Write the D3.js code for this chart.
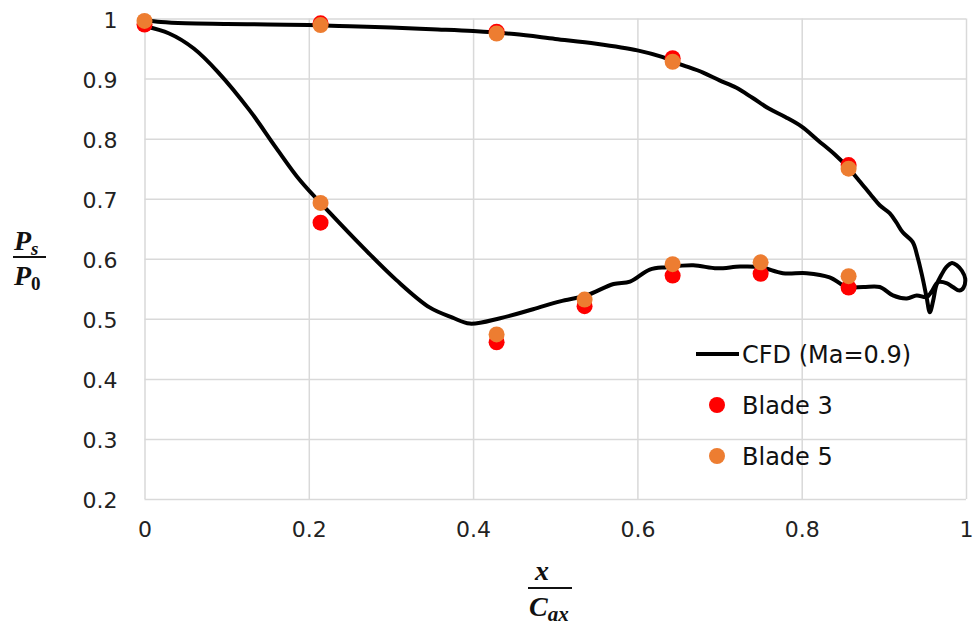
<!DOCTYPE html>
<html>
<head>
<meta charset="utf-8">
<script src="https://cdn.jsdelivr.net/npm/d3@7"></script>
<style>
  body { margin: 0; background: #fff; }
  .tick text { font-family: "DejaVu Sans", sans-serif; font-size: 22px; fill: #222; }
  .grid line { stroke: #d9d9d9; stroke-width: 1.5; }
  .legend text { font-family: "DejaVu Sans", sans-serif; font-size: 24px; fill: #111; }
  .title text { font-family: "Liberation Serif", serif; font-weight: bold; font-style: italic; fill: #111; }
</style>
</head>
<body>
<div id="chart"></div>
<script>
// CFD curve: pressure side -> trailing edge loop -> suction side
const cfdX = [0, 0.02, 0.05, 0.1, 0.15, 0.2, 0.25, 0.3, 0.35, 0.4, 0.45, 0.5, 0.55, 0.6, 0.63, 0.65, 0.68, 0.7, 0.72, 0.74, 0.76, 0.78, 0.8, 0.82, 0.84, 0.857, 0.87, 0.885, 0.895, 0.907, 0.915, 0.923, 0.935, 0.941, 0.947, 0.952, 0.956,
  0.960, 0.964, 0.970, 0.976, 0.983, 0.989, 0.995, 0.999, 0.997, 0.992, 0.984, 0.977, 0.966, 0.958, 0.952,
  0.940, 0.928, 0.911, 0.895, 0.875, 0.855, 0.834, 0.806, 0.777, 0.75, 0.725, 0.697, 0.668, 0.636, 0.615, 0.591, 0.571, 0.538, 0.506, 0.473, 0.433, 0.396, 0.375, 0.347, 0.307, 0.266, 0.226, 0.189, 0.16, 0.128, 0.09, 0.06, 0.03, 0];
const cfdY = [0.997, 0.994, 0.992, 0.991, 0.990, 0.989, 0.987, 0.985, 0.982, 0.979, 0.974, 0.966, 0.958, 0.947, 0.936, 0.925, 0.91, 0.897, 0.885, 0.868, 0.85, 0.836, 0.82, 0.797, 0.774, 0.751, 0.73, 0.705, 0.689, 0.676, 0.661, 0.644, 0.628, 0.603, 0.569, 0.536, 0.511,
  0.53, 0.556, 0.573, 0.586, 0.593, 0.589, 0.58, 0.567, 0.552, 0.547, 0.553, 0.559, 0.561, 0.545, 0.536,
  0.539, 0.534, 0.539, 0.553, 0.553, 0.553, 0.569, 0.576, 0.576, 0.586, 0.587, 0.584, 0.589, 0.586, 0.582, 0.562, 0.558, 0.539, 0.529, 0.516, 0.501, 0.492, 0.502, 0.519, 0.564, 0.619, 0.676, 0.731, 0.785, 0.847, 0.91, 0.95, 0.975, 0.987];

// measurement positions (x / Cax)
const probeX = [0, 0.2143, 0.4286, 0.6429, 0.8571, 0.2143, 0.4286, 0.5357, 0.6429, 0.75, 0.8571];
const blade3 = [0.99, 0.992, 0.978, 0.934, 0.756, 0.660, 0.461, 0.521, 0.572, 0.575, 0.552];
const blade5 = [0.996, 0.989, 0.975, 0.928, 0.750, 0.693, 0.474, 0.532, 0.591, 0.594, 0.571];

const xTicks = [0, 0.2, 0.4, 0.6, 0.8, 1];
const yTicks = [0.2, 0.3, 0.4, 0.5, 0.6, 0.7, 0.8, 0.9, 1];

const legendItems = [
  {name: 'CFD (Ma=0.9)', type: 'line', color: '#000'},
  {name: 'Blade 3', type: 'dot', color: '#ff0000'},
  {name: 'Blade 5', type: 'dot', color: '#ed7d31'}
];

const W = 976, H = 625;
const m = {left: 144.5, right: 966, top: 18.5, bottom: 499};

let svg = d3.select('#chart').append('svg')
  .attr('width', W)
  .attr('height', H);

let x = d3.scaleLinear().domain([0, 1]).range([m.left, m.right]);
let y = d3.scaleLinear().domain([0.2, 1]).range([m.bottom, m.top]);

// grid + tick labels
let xAxis = svg.append('g').attr('class', 'grid')
  .attr('transform', `translate(0,${m.bottom})`)
  .call(d3.axisBottom(x).tickValues(xTicks).tickSize(-(m.bottom - m.top)).tickPadding(22)
    .tickFormat(d => d3.format('~g')(d)));
xAxis.select('.domain').remove();

let yAxis = svg.append('g').attr('class', 'grid')
  .attr('transform', `translate(${m.left},0)`)
  .call(d3.axisLeft(y).tickValues(yTicks).tickSize(-(m.right - m.left)).tickPadding(27)
    .tickFormat(d => d3.format('~g')(d)));
yAxis.select('.domain').remove();
yAxis.selectAll('.tick text').attr('dy', '0.4em');
xAxis.selectAll('.tick text').attr('dy', '0.71em');

// CFD line
let line = d3.line()
  .x(d => x(d[0]))
  .y(d => y(d[1]))
  .curve(d3.curveCatmullRom.alpha(0.5));

svg.append('path')
  .attr('d', line(cfdX.map((v, i) => [v, cfdY[i]])))
  .attr('fill', 'none')
  .attr('stroke', '#000')
  .attr('stroke-width', 4)
  .attr('stroke-linejoin', 'round');

// markers
let drawDots = (vals, color) => {
  svg.append('g').selectAll('circle')
    .data(vals)
    .enter()
    .append('circle')
      .attr('cx', (d, i) => x(probeX[i]))
      .attr('cy', d => y(d))
      .attr('r', 8)
      .attr('fill', color);
};
drawDots(blade3, legendItems[1].color);
drawDots(blade5, legendItems[2].color);

// legend
let legend = svg.append('g').attr('class', 'legend')
  .attr('transform', 'translate(696,354)');
legendItems.forEach((it, i) => {
  let g = legend.append('g').attr('transform', `translate(0,${i * 51})`);
  if (it.type === 'line') {
    g.append('line').attr('x1', 0).attr('x2', 43).attr('y1', 0).attr('y2', 0)
      .attr('stroke', it.color).attr('stroke-width', 4);
  } else {
    g.append('circle').attr('cx', 21).attr('cy', 0).attr('r', 8).attr('fill', it.color);
  }
  g.append('text').attr('x', 46).attr('y', 9).text(it.name);
});

// axis titles (fractions)
let yt = svg.append('g').attr('class', 'title');
let num = yt.append('text').attr('x', 14).attr('y', 250).style('font-size', '28px');
num.append('tspan').text('P');
num.append('tspan').attr('dy', 5).style('font-size', '19px').text('s');
yt.append('line').attr('x1', 13).attr('x2', 46).attr('y1', 257).attr('y2', 257)
  .attr('stroke', '#111').attr('stroke-width', 2);
let den = yt.append('text').attr('x', 14).attr('y', 285).style('font-size', '28px');
den.append('tspan').text('P');
den.append('tspan').attr('dy', 5).style('font-size', '19px').style('font-style', 'normal').text('0');

let xt = svg.append('g').attr('class', 'title');
xt.append('text').attr('x', 542).attr('y', 580).attr('text-anchor', 'middle')
  .style('font-size', '28px').text('x');
xt.append('line').attr('x1', 528).attr('x2', 572).attr('y1', 588).attr('y2', 588)
  .attr('stroke', '#111').attr('stroke-width', 2);
let cax = xt.append('text').attr('x', 529).attr('y', 616).style('font-size', '28px');
cax.append('tspan').text('C');
cax.append('tspan').attr('dy', 5).style('font-size', '21px').text('ax');
</script>
</body>
</html>
